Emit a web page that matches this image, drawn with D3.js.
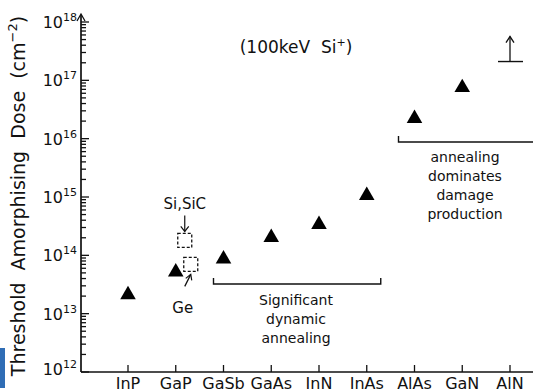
<!DOCTYPE html>
<html>
<head>
<meta charset="utf-8">
<script src="https://cdn.jsdelivr.net/npm/d3@7"></script>
<style>
body { margin: 0; background: white; }
text { font-family: "DejaVu Sans", "Liberation Sans", sans-serif; fill: #111; white-space: pre; }
</style>
</head>
<body>
<div id="chart"></div>
<script>
// materials along the x axis
let materials = ['InP', 'GaP', 'GaSb', 'GaAs', 'InN', 'InAs', 'AlAs', 'GaN', 'AlN']
// threshold amorphising dose (cm^-2), AlN only a lower bound
let doses = [2.2e13, 5.4e13, 9e13, 2.1e14, 3.5e14, 1.1e15, 2.3e16, 7.8e16, null]
let lowerBound = {'name': 'AlN', 'value': 2.1e17}
// elemental / reference semiconductors (dashed squares)
let elemental = [
	{'name': 'Si,SiC', 'at': 'GaP', 'shift': 9, 'value': 1.8e14},
	{'name': 'Ge', 'at': 'GaP', 'shift': 15, 'value': 7e13}
]
let decades = [12, 13, 14, 15, 16, 17, 18]

let width = 533
let height = 392

const svg = d3.select('#chart')
	.append('svg')
	.attr('width', width)
	.attr('height', height)

let xScale = d3.scalePoint()
	.domain(materials)
	.range([128, 510])

let yScale = d3.scaleLog()
	.domain([1e12, 1e18])
	.range([372, 22])

let axisX = 81
let axisY = 372

// y axis line with arrow at top
svg.append('line')
	.attr('x1', axisX).attr('x2', axisX)
	.attr('y1', axisY).attr('y2', 15)
	.attr('stroke', '#111').attr('stroke-width', 1.7)
svg.append('path')
	.attr('d', `M${axisX - 4},${21} L${axisX},${14} L${axisX + 4},${21}`)
	.attr('fill', 'none').attr('stroke', '#111').attr('stroke-width', 1.3)

// minor & major ticks
let ticks = []
decades.forEach(function(e){
	for(let m = 1; m < 10; m++){
		if(e == 18 && m > 1) break
		ticks.push({'v': m * Math.pow(10, e), 'major': m == 1})
	}
})
svg.selectAll('.yTick')
	.data(ticks)
	.enter()
	.append('line')
	.attr('class', 'yTick')
	.attr('x1', axisX)
	.attr('x2', d => axisX + (d.major ? 8 : 5))
	.attr('y1', d => yScale(d.v))
	.attr('y2', d => yScale(d.v))
	.attr('stroke', '#111')
	.attr('stroke-width', 1.3)

// y tick labels 10^n
let yLab = svg.selectAll('.yLab')
	.data(decades)
	.enter()
	.append('text')
	.attr('class', 'yLab')
	.attr('x', 77)
	.attr('y', d => yScale(Math.pow(10, d)) + (d == 12 ? 3 : 6))
	.attr('text-anchor', 'end')
	.attr('font-size', 16)
yLab.append('tspan').text('10')
yLab.append('tspan').attr('dy', -7).attr('font-size', 11).text(d => d)

// x axis
svg.append('line')
	.attr('x1', axisX).attr('x2', width)
	.attr('y1', axisY).attr('y2', axisY)
	.attr('stroke', '#111').attr('stroke-width', 1.7)

svg.selectAll('.xTick')
	.data(materials)
	.enter()
	.append('line')
	.attr('x1', d => xScale(d)).attr('x2', d => xScale(d))
	.attr('y1', axisY).attr('y2', axisY - 7)
	.attr('stroke', '#111').attr('stroke-width', 1.3)

svg.selectAll('.xLab')
	.data(materials)
	.enter()
	.append('text')
	.attr('x', d => xScale(d))
	.attr('y', 389)
	.attr('text-anchor', 'middle')
	.attr('font-size', 16)
	.text(d => d)

// y axis title
let yt = svg.append('text')
	.attr('transform', `translate(25,${196}) rotate(-90)`)
	.attr('text-anchor', 'middle')
	.attr('font-size', 19)
yt.append('tspan').text('Threshold  Amorphising  Dose  (cm')
yt.append('tspan').attr('dy', -8).attr('font-size', 13).text('−2')
yt.append('tspan').attr('dy', 8).text(')')

// header
let hd = svg.append('text')
	.attr('x', 296).attr('y', 53)
	.attr('text-anchor', 'middle')
	.attr('font-size', 17)
hd.append('tspan').text('(100keV  Si')
hd.append('tspan').attr('dy', -7).attr('font-size', 11).text('+')
hd.append('tspan').attr('dy', 7).text(')')

// triangles
let points = materials.map((m, i) => ({'name': m, 'value': doses[i]})).filter(d => d.value != null)
svg.selectAll('.tri')
	.data(points)
	.enter()
	.append('path')
	.attr('d', d3.symbol().type(d3.symbolTriangle).size(105))
	.attr('transform', d => `translate(${xScale(d.name)},${yScale(d.value) + 1})`)
	.attr('fill', '#000')

// AlN lower bound
let lbX = xScale(lowerBound.name)
let lbY = yScale(lowerBound.value)
svg.append('line')
	.attr('x1', lbX - 12).attr('x2', lbX + 13)
	.attr('y1', lbY).attr('y2', lbY)
	.attr('stroke', '#111').attr('stroke-width', 1.4)
svg.append('line')
	.attr('x1', lbX).attr('x2', lbX)
	.attr('y1', lbY).attr('y2', lbY - 25)
	.attr('stroke', '#111').attr('stroke-width', 1.3)
svg.append('path')
	.attr('d', `M${lbX - 4},${lbY - 19} L${lbX},${lbY - 25} L${lbX + 4},${lbY - 19}`)
	.attr('fill', 'none').attr('stroke', '#111').attr('stroke-width', 1.3)

// dashed squares
svg.selectAll('.sq')
	.data(elemental)
	.enter()
	.append('rect')
	.attr('x', d => xScale(d.at) + d.shift - 7)
	.attr('y', d => yScale(d.value) - 7)
	.attr('width', 14).attr('height', 14)
	.attr('fill', 'none')
	.attr('stroke', '#111')
	.attr('stroke-width', 1.3)
	.attr('stroke-dasharray', '3,2')

let siX = xScale('GaP') + elemental[0].shift
let siY = yScale(elemental[0].value)
svg.append('text')
	.attr('x', siX).attr('y', siY - 31)
	.attr('text-anchor', 'middle').attr('font-size', 15)
	.text(elemental[0].name)
svg.append('line')
	.attr('x1', siX).attr('x2', siX)
	.attr('y1', siY - 25).attr('y2', siY - 9)
	.attr('stroke', '#111').attr('stroke-width', 1.2)
svg.append('path')
	.attr('d', `M${siX - 4},${siY - 14} L${siX},${siY - 9} L${siX + 4},${siY - 14}`)
	.attr('fill', 'none').attr('stroke', '#111').attr('stroke-width', 1.2)

let geX = xScale('GaP') + elemental[1].shift
let geY = yScale(elemental[1].value)
svg.append('line')
	.attr('x1', geX - 6).attr('x2', geX)
	.attr('y1', geY + 22).attr('y2', geY + 10)
	.attr('stroke', '#111').attr('stroke-width', 1.2)
svg.append('path')
	.attr('d', `M${geX - 5},${geY + 14} L${geX},${geY + 10} L${geX + 1},${geY + 16}`)
	.attr('fill', 'none').attr('stroke', '#111').attr('stroke-width', 1.2)
svg.append('text')
	.attr('x', geX - 8).attr('y', geY + 49)
	.attr('text-anchor', 'middle').attr('font-size', 15)
	.text(elemental[1].name)

// brackets
function bracket(x1, x2, y, rightEnd, lines, tx, ty){
	let d = `M${x1},${y - 6} L${x1},${y} L${x2},${y}` + (rightEnd ? ` L${x2},${y - 6}` : '')
	svg.append('path').attr('d', d)
		.attr('fill', 'none').attr('stroke', '#111').attr('stroke-width', 1.4)
	svg.selectAll(null)
		.data(lines)
		.enter()
		.append('text')
		.attr('x', tx)
		.attr('y', (d, i) => ty + i * 19)
		.attr('text-anchor', 'middle')
		.attr('font-size', 14)
		.text(d => d)
}
bracket(xScale('GaSb') - 10, xScale('InAs') + 14, 284, true, ['Significant', 'dynamic', 'annealing'], 296, 305)
bracket(xScale('AlAs') - 16, width, 142, false, ['annealing', 'dominates', 'damage', 'production'], 465, 162)

// stray blue mark at bottom left
svg.append('rect')
	.attr('x', 0).attr('y', 348)
	.attr('width', 5).attr('height', 40)
	.attr('fill', '#2f6db5')
</script>
</body>
</html>
